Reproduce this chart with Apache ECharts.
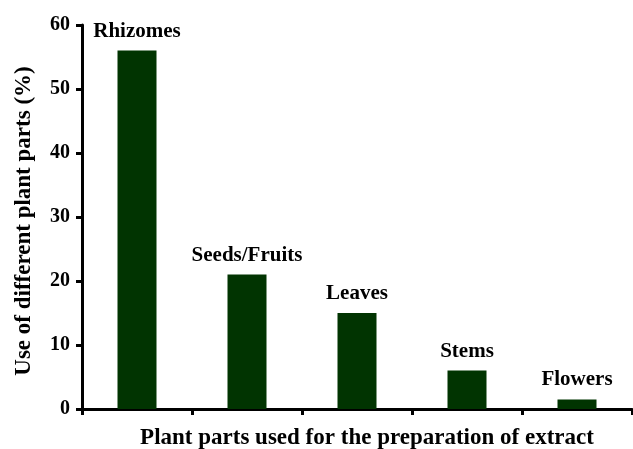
<!DOCTYPE html>
<html>
<head>
<meta charset="utf-8">
<script src="https://cdn.jsdelivr.net/npm/echarts@6/dist/echarts.min.js"></script>
<style>
  html, body { margin: 0; padding: 0; background: #fff; }
  #chart { width: 633px; height: 449px; }
</style>
</head>
<body>
<div id="chart"></div>
<script>
// 植物部位数据
const parts = ['Rhizomes', 'Seeds/Fruits', 'Leaves', 'Stems', 'Flowers'];
const usePercent = [56, 21, 15, 6, 1.5];

const font = '"Liberation Serif", "Times New Roman", serif';

const chart = echarts.init(document.getElementById('chart'));
chart.setOption({
  animation: false,
  grid: { left: 82, right: 1, top: 25, bottom: 40, outerBoundsMode: 'none', containLabel: false },
  xAxis: {
    type: 'category',
    data: parts,
    name: 'Plant parts used for the preparation of extract',
    nameLocation: 'middle',
    nameGap: 18,
    nameTextStyle: { fontFamily: font, fontWeight: 'bold', fontSize: 23, color: '#000', padding: [0, 0, 0, 20] },
    axisLine: { lineStyle: { color: '#000', width: 3 } },
    axisTick: { show: true, length: 6, lineStyle: { color: '#000', width: 3 } },
    axisLabel: { show: false }
  },
  yAxis: {
    type: 'value',
    min: 0,
    max: 60,
    interval: 10,
    name: 'Use of different plant parts (%)',
    nameLocation: 'middle',
    nameGap: 46,
    nameTextStyle: { fontFamily: font, fontWeight: 'bold', fontSize: 23, color: '#000', padding: [0, 8, 0, 0] },
    axisLine: { show: true, lineStyle: { color: '#000', width: 3 } },
    axisTick: { show: true, length: 6, lineStyle: { color: '#000', width: 3 } },
    axisLabel: { margin: 12, fontFamily: font, fontWeight: 'bold', fontSize: 20, color: '#000' },
    splitLine: { show: false }
  },
  series: [
    {
      type: 'bar',
      data: usePercent,
      barWidth: 39,
      itemStyle: { color: '#013401' },
      label: {
        show: true,
        position: 'top',
        distance: 9,
        formatter: p => parts[p.dataIndex],
        fontFamily: font,
        fontWeight: 'bold',
        fontSize: 21,
        color: '#000'
      }
    }
  ]
});
</script>
</body>
</html>
